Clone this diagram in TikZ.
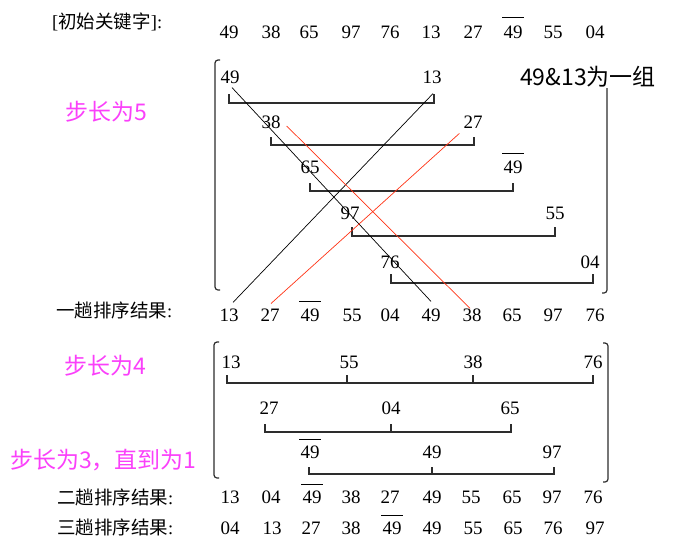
\documentclass[tikz,border=0pt]{standalone}
\usepackage{fontspec}
\setmainfont{Liberation Serif}
\newfontfamily\cjk{Noto Sans CJK SC}
\usetikzlibrary{calc}
\definecolor{mag}{RGB}{250,64,250}
\definecolor{redl}{RGB}{255,50,20}
\definecolor{brkc}{RGB}{45,45,45}
\begin{document}
\begin{tikzpicture}[x=1pt,y=-1pt,
  num/.style={inner sep=0pt,font=\fontsize{19}{21}\selectfont},
  lab/.style={inner sep=0pt,anchor=west,font=\fontsize{18.5}{20}\selectfont},
  note/.style={inner sep=0pt,anchor=west,font=\cjk\fontsize{23}{25}\selectfont},
  brk/.style={draw=brkc,line width=1.1pt},
  big/.style={draw=brkc,line width=1.2pt,rounded corners=3pt},
  cross/.style={line width=0.7pt},
  obar/.style={line width=0.9pt}]
\useasboundingbox (0,0) rectangle (674,550);

% initial keys
\node[lab] (lab0) at (52,22) {[{\cjk 初始关键字}]:};
\foreach \v/\x [count=\i] in {49/229,38/271,65/309,97/351,76/390,13/431,27/473,49/513,55/553,04/595}
  \node[num] (k\i) at (\x,32) {\v};
\draw[obar] ($(k8)+(-11,-15)$) -- ($(k8)+(11,-15)$);

% step 5 labels
\node[note,text=mag] (s5) at (65,112) {步长为5};
\node[note] (grp) at (520,77) {49\&13为一组};

% big brackets step 5
\draw[big] (220,60) -- (215,60) -- (215,290) -- (220,290);
\draw[big] (607,88) -- (607,293) -- (602,293);

% step 5 groups
\node[num] (a1) at (230,77) {49};  \node[num] (b1) at (432,77) {13};
\node[num] (a2) at (271,122) {38}; \node[num] (b2) at (473,122) {27};
\node[num] (a3) at (310,167) {65}; \node[num] (b3) at (513,167) {49};
\draw[obar] ($(b3)+(-11,-14)$) -- ($(b3)+(11,-14)$);
\node[num] (a4) at (350,213) {97}; \node[num] (b4) at (555,213) {55};
\node[num] (a5) at (390,262) {76}; \node[num] (b5) at (590,262) {04};

\draw[brk] ($(a1)+(-1,17)$) |- ($(b1)+(2,26)$) -- ($(b1)+(2,17)$);
\draw[brk] ($(a2)+(0,15)$) |- ($(b2)+(1,23)$) -- ($(b2)+(1,15)$);
\draw[brk] ($(a3)+(0,16)$) |- ($(b3)+(0,24)$) -- ($(b3)+(0,16)$);
\draw[brk] ($(a4)+(2,14)$) |- ($(b4)+(0,23)$) -- ($(b4)+(0,14)$);
\draw[brk] ($(a5)+(1,12)$) |- ($(b5)+(3,21)$) -- ($(b5)+(3,12)$);

% pass 1 result
\node[lab] (lab1) at (56,310) {{\cjk 一趟排序结果}:};
\foreach \v/\x [count=\i] in {13/229,27/270,49/310,55/352,04/390,49/431,38/472,65/512,97/553,76/595}
  \node[num] (o\i) at (\x,315) {\v};
\draw[obar] ($(o3)+(-11,-14)$) -- ($(o3)+(11,-14)$);

% crossing lines
\draw[cross] ($(a1.south)+(2,4)$) -- ($(o6.north)+(0,-7)$);
\draw[cross] ($(b1.south)+(1,10)$) -- ($(o1.north)+(4,-6)$);
\draw[cross,redl] ($(a2.east)+(6,4)$) -- ($(o7.north)+(-2,0)$);
\draw[cross,redl] ($(b2.south west)+(-4,5)$) -- ($(o2.north)+(1,-5)$);

% step 4
\node[note,text=mag] (s4) at (64,366) {步长为4};
\draw[big] (219,342) -- (214,342) -- (214,478) -- (219,478);
\draw[big] (603,343) -- (608,343) -- (608,482) -- (603,482);

\node[num] (c1) at (231,362) {13}; \node[num] (c2) at (349,362) {55};
\node[num] (c3) at (473,362) {38}; \node[num] (c4) at (593,362) {76};
\node[num] (d1) at (269,408) {27}; \node[num] (d2) at (391,408) {04};
\node[num] (d3) at (510,408) {65};
\node[num] (e1) at (310,452) {49}; \node[num] (e2) at (432,452) {49};
\node[num] (e3) at (552,452) {97};
\draw[obar] ($(e1)+(-11,-13)$) -- ($(e1)+(11,-13)$);

\draw[brk] ($(c1)+(-4,13)$) |- ($(c4)+(0,21)$) -- ($(c4)+(0,13)$);
\draw[brk] ($(c2)+(-2,13)$) -- ($(c2)+(-2,21)$);
\draw[brk] ($(c3)+(0,13)$) -- ($(c3)+(0,21)$);
\draw[brk] ($(d1)+(-4,16)$) |- ($(d3)+(1,24)$) -- ($(d3)+(1,16)$);
\draw[brk] ($(d2)+(0,16)$) -- ($(d2)+(0,24)$);
\draw[brk] ($(e1)+(-1,15)$) |- ($(e3)+(2,22)$) -- ($(e3)+(2,15)$);
\draw[brk] ($(e2)+(0,15)$) -- ($(e2)+(0,22)$);

% step 3 note
\node[note,text=mag] (s3) at (10,460) {步长为3，直到为1};

% pass 2 and 3 results
\node[lab] (lab2) at (57,497) {{\cjk 二趟排序结果}:};
\foreach \v/\x [count=\i] in {13/230,04/271,49/312,38/351,27/390,49/432,55/471,65/512,97/552,76/593}
  \node[num] (p\i) at (\x,497) {\v};
\draw[obar] ($(p3)+(-11,-13)$) -- ($(p3)+(11,-13)$);

\node[lab] (lab3) at (57,527) {{\cjk 三趟排序结果}:};
\foreach \v/\x [count=\i] in {04/230,13/272,27/311,38/351,49/392,49/432,55/473,65/513,76/553,97/595}
  \node[num] (q\i) at (\x,528) {\v};
\draw[obar] ($(q5)+(-11,-13)$) -- ($(q5)+(11,-13)$);
\end{tikzpicture}
\end{document}
